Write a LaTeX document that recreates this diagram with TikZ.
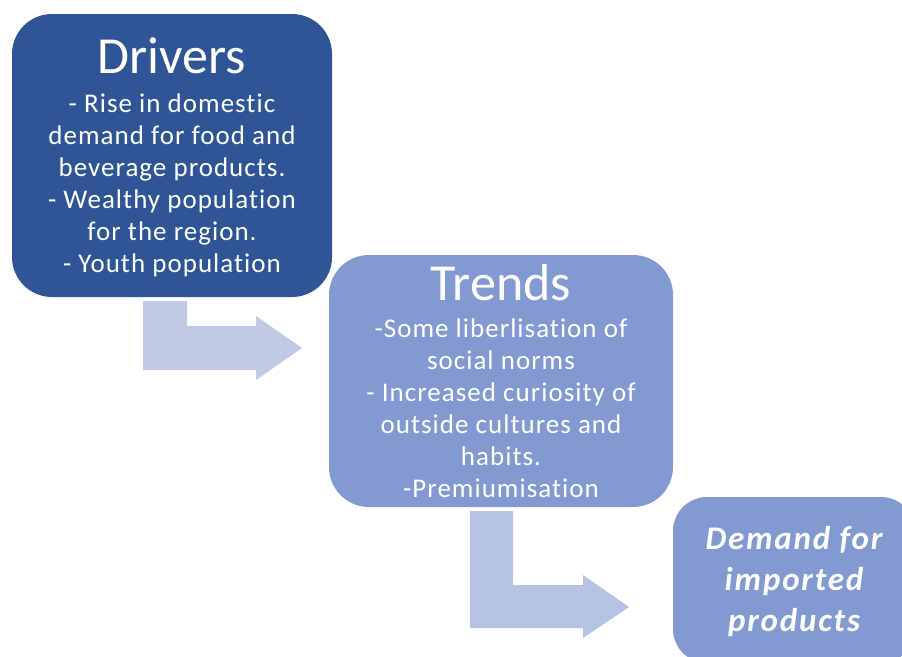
\documentclass[tikz,border=0pt]{standalone}
\usepackage{fontspec}
\setmainfont{Carlito}[Ligatures=NoCommon]
\usetikzlibrary{positioning}
\definecolor{driversblue}{HTML}{2F5597}
\definecolor{panelblue}{HTML}{8399D1}
\definecolor{arrowpale}{HTML}{C0CAE5}
\definecolor{arrowmid}{HTML}{B6C2E2}

\begin{document}
\begin{tikzpicture}[x=1pt,y=-1pt,
    panel/.style={inner sep=0pt, draw=none},
    heading/.style={text=white, inner sep=0pt, anchor=base, font=\fontsize{52}{56}\selectfont},
    points/.style={text=white, inner sep=0pt, anchor=north, align=center, font=\fontsize{27}{32}\selectfont\addfontfeature{LetterSpace=3.8}},
    outcome/.style={text=white, inner sep=0pt, anchor=north, align=center, font=\fontsize{33}{41}\selectfont\bfseries\itshape\addfontfeature{LetterSpace=5.5}}]
        \useasboundingbox (0,0) rectangle (902,656);
        \clip (0,0) rectangle (902,656);

        \node[panel, fill=driversblue, rounded corners=40pt, minimum width=320pt, minimum height=283pt] (drivers) at (172,155.5) {};
        \node[heading] (driversTitle) at (172,73) {Drivers};
        \node[points] (driversList) at (172,94) {- Rise in domestic\\demand for food and\\beverage products.\\- Wealthy population\\for the region.\\- Youth population};

        \fill[arrowpale] (143,301) -- (187,301) -- (187,326) -- (256,326) -- (256,316) -- (302,348) -- (256,380) -- (256,370) -- (143,370) -- cycle;

        \node[panel, fill=panelblue, rounded corners=40pt, minimum width=344pt, minimum height=252pt] (trends) at (501,381) {};
        \node[heading] (trendsTitle) at (501,300) {Trends};
        \node[points] (trendsList) at (501,319) {-Some liberlisation of\\social norms\\- Increased curiosity of\\outside cultures and\\habits.\\-Premiumisation};

        \fill[arrowmid] (470,511) -- (513,511) -- (513,585) -- (583,585) -- (583,575) -- (629,607) -- (583,638) -- (583,628) -- (470,628) -- cycle;

        \node[panel, fill=panelblue, rounded corners=34pt, minimum width=242pt, minimum height=166pt] (demand) at (794,580) {};
        \node[outcome] (demandText) at (794,526) {Demand for\\imported\\products};
\end{tikzpicture}
\end{document}
